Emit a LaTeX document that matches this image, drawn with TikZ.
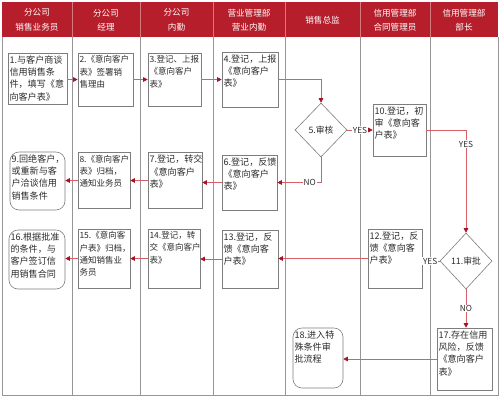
\documentclass[tikz,border=0pt]{standalone}
\usepackage{fontspec}
\setmainfont{Noto Sans CJK SC}
\usetikzlibrary{arrows.meta,shapes.geometric}
\definecolor{hdr}{RGB}{181,30,42}
\definecolor{hdrline}{RGB}{215,120,125}
\definecolor{colgray}{RGB}{150,150,150}
\definecolor{boxgray}{RGB}{125,125,125}
\definecolor{linered}{RGB}{215,95,105}
\definecolor{tipred}{RGB}{165,20,35}
\definecolor{txtgray}{RGB}{45,45,45}
\begin{document}
\begin{tikzpicture}[x=1pt,y=-1pt,
  box/.style={draw=boxgray, line width=0.6pt, fill=white, inner sep=0pt},
  rbox/.style={box, rounded corners=9pt},
  dia/.style={draw=boxgray, line width=0.6pt, fill=white, diamond, inner sep=0pt,
    font=\fontsize{8.8}{10}\selectfont, text=txtgray},
  txt/.style={anchor=north west, inner xsep=1.6pt, inner ysep=2.5pt, align=left, text=txtgray,
    font=\fontsize{9.1}{12.4}\selectfont},
  txts/.style={txt, font=\fontsize{8.5}{12.4}\selectfont},
  hd/.style={text=white, align=center, font=\fontsize{8.6}{14.5}\selectfont},
  col/.style={draw=colgray, line width=0.8pt},
  arr/.style={draw=linered, line width=0.6pt,
    -{Triangle[length=4.5pt,width=4.5pt,color=tipred]}},
  lbl/.style={fill=white, inner sep=0.8pt, text=txtgray, font=\fontsize{8.3}{9}\selectfont}
]
\useasboundingbox (0,0) rectangle (500,400);
% header
\fill[hdr] (2,2) rectangle (498,37);
\foreach \x in {72,140,213,285,360,430} \draw[hdrline, line width=0.6pt] (\x,2) -- (\x,37);
\foreach \x in {72,140,213,285,360,430} \draw[col] (\x,37) -- (\x,395);
\draw[col] (2,37) -- (2,395) -- (498,395) -- (498,37);
\node[hd] (h1) at (37,20) {分公司\\销售业务员};
\node[hd] (h2) at (106,20) {分公司\\经理};
\node[hd] (h3) at (176.5,20) {分公司\\内勤};
\node[hd] (h4) at (249,20) {营业管理部\\营业内勤};
\node[hd] (h5) at (322.5,20) {销售总监};
\node[hd] (h6) at (395,20) {信用管理部\\合同管理员};
\node[hd] (h7) at (464,20) {信用管理部\\部长};
% row 1
\node[box, minimum width=59pt, minimum height=51pt] (b1) at (37.5,78.5) {};
\node[box, minimum width=55pt, minimum height=53pt] (b2) at (105.5,79.5) {};
\node[box, minimum width=53pt, minimum height=53pt] (b3) at (174.5,79.5) {};
\node[box, minimum width=56pt, minimum height=55pt] (b4) at (250,79.5) {};
\node[txt] (t1) at (b1.north west) {1.与客户商谈\\信用销售条\\件，填写《意\\向客户表》};
\node[txts] (t2) at (b2.north west) {2.《意向客户\\表》签署销\\售理由};
\node[txts] (t3) at (b3.north west) {3.登记、上报\\《意向客户\\表》};
\node[txt] (t4) at (b4.north west) {4.登记，上报\\《意向客户\\表》};
% decision 5 and box 10
\node[dia, minimum width=52pt, minimum height=54pt] (d5) at (321,130) {5.审核};
\node[box, minimum width=53pt, minimum height=52pt] (b10) at (399.5,130) {};
\node[txt] (t10) at (b10.north west) {10.登记，初\\审《意向客\\户表》};
% row 2
\node[box, minimum width=55pt, minimum height=55pt] (b6) at (249.5,182.5) {};
\node[box, minimum width=54pt, minimum height=56pt] (b7) at (175,180.5) {};
\node[box, minimum width=52pt, minimum height=56pt] (b8) at (104,180.5) {};
\node[rbox, minimum width=55pt, minimum height=58pt] (b9) at (37.5,181) {};
\node[txt] (t6) at (b6.north west) {6.登记，反馈\\《意向客户\\表》};
\node[txt] (t7) at (b7.north west) {7.登记，转交\\《意向客户\\表》};
\node[txts] (t8) at (b8.north west) {8.《意向客户\\表》归档，\\通知业务员};
\node[txt] (t9) at (b9.north west) {9.回绝客户，\\或重新与客\\户洽谈信用\\销售条件};
% decision 11 and row 3
\node[dia, minimum width=52pt, minimum height=56pt] (d11) at (466,261) {11.审批};
\node[box, minimum width=54pt, minimum height=59pt] (b12) at (395,258.5) {};
\node[box, minimum width=56pt, minimum height=58pt] (b13) at (250,259) {};
\node[box, minimum width=52pt, minimum height=59pt] (b14) at (174,258.5) {};
\node[box, minimum width=52pt, minimum height=59pt] (b15) at (104,258.5) {};
\node[rbox, minimum width=56pt, minimum height=59pt] (b16) at (37,259.5) {};
\node[txt] (t12) at (b12.north west) {12.登记，反\\馈《意向客\\户表》};
\node[txt] (t13) at (b13.north west) {13.登记，反\\馈《意向客\\户表》};
\node[txts] (t14) at (b14.north west) {14.登记，转\\交《意向客户\\表》};
\node[txts] (t15) at (b15.north west) {15.《意向客\\户表》归档，\\通知销售业\\务员};
\node[txt] (t16) at (b16.north west) {16.根据批准\\的条件，与\\客户签订信\\用销售合同};
% row 4
\node[box, minimum width=55pt, minimum height=62pt] (b17) at (464.5,359) {};
\node[rbox, minimum width=50pt, minimum height=60pt] (b18) at (318,358) {};
\node[txt] (t17) at (b17.north west) {17.存在信用\\风险，反馈\\《意向客户\\表》};
\node[txt] (t18) at (b18.north west) {18.进入特\\殊条件审\\批流程};
% connectors
\draw[arr] (b1.east |- b2.west) -- (b2.west);
\draw[arr] (b2.east) -- (b3.west);
\draw[arr] (b3.east) -- (b4.west);
\draw[arr] (b4.east) -| (d5.north);
\draw[arr] (d5.east) -- node[lbl] {YES} (b10.west);
\draw[arr] (b10.east) -| node[lbl, pos=0.57] {YES} (d11.north);
\draw[arr] (d5.south) |- node[lbl, pos=0.63] {NO} (b6.east);
\draw[arr] (b6.west) -- (b6.west -| b7.east);
\draw[arr] (b7.west) -- (b7.west -| b8.east);
\draw[arr] (b8.west) -- (b8.west -| b9.east);
\draw[arr] (d11.west) -- node[lbl, pos=0.55] {YES} (d11.west -| b12.east);
\draw[arr] (b12.west) -- (b12.west -| b13.east);
\draw[arr] (b13.west) -- (b13.west -| b14.east);
\draw[arr] (b14.west) -- (b14.west -| b15.east);
\draw[arr] (b15.west) -- (b15.west -| b16.east);
\draw[arr] (d11.south) -- node[lbl] {NO} (d11.south |- b17.north);
\draw[arr] (b17.west) -- (b17.west -| b18.east);
\end{tikzpicture}
\end{document}
